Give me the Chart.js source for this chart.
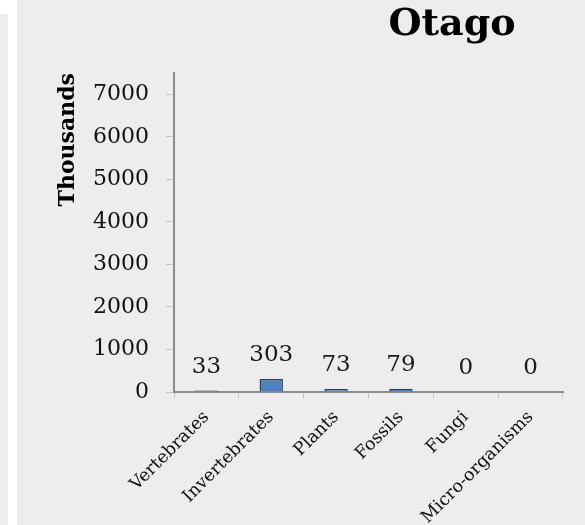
<!DOCTYPE html>
<html>
<head>
<meta charset="utf-8">
<script src="https://cdn.jsdelivr.net/npm/chart.js@4.4.1/dist/chart.umd.min.js"></script>
<style>
  html, body { margin: 0; padding: 0; background: #ededed; overflow: hidden; }
  #wrap { width: 585px; height: 525px; }
  canvas { display: block; }
</style>
</head>
<body>
<div id="wrap"><canvas id="c" width="585" height="525"></canvas></div>
<script>
const chartTitle = 'Otago';
const yAxisTitle = 'Thousands';
const categories = ['Vertebrates', 'Invertebrates', 'Plants', 'Fossils', 'Fungi', 'Micro-organisms'];
const values = [33, 303, 73, 79, 0, 0];
const yTickValues = [0, 1000, 2000, 3000, 4000, 5000, 6000, 7000];
const yMin = 0;
const yMax = 7500;

const SERIF = '"DejaVu Serif", "Liberation Serif", serif';

const backgroundPlugin = {
  id: 'bg',
  beforeDraw(chart) {
    const ctx = chart.ctx;
    ctx.save();
    ctx.fillStyle = '#ededed';
    ctx.fillRect(0, 0, chart.width, chart.height);
    ctx.fillStyle = '#ffffff';
    ctx.fillRect(8, 0, 9, chart.height);
    ctx.fillRect(0, 0, 8, 14);
    ctx.restore();
  }
};

const titlePlugin = {
  id: 'rightTitle',
  afterDraw(chart) {
    const ctx = chart.ctx;
    ctx.save();
    ctx.font = 'bold 38px ' + SERIF;
    ctx.fillStyle = '#000000';
    ctx.textAlign = 'center';
    ctx.textBaseline = 'alphabetic';
    ctx.fillText(chartTitle, 452, 35);
    ctx.restore();
  }
};

const valueLabelPlugin = {
  id: 'valueLabels',
  afterDatasetsDraw(chart) {
    const ctx = chart.ctx;
    const meta = chart.getDatasetMeta(0);
    ctx.save();
    ctx.font = '23px ' + SERIF;
    ctx.fillStyle = '#1a1a1a';
    ctx.textAlign = 'center';
    ctx.textBaseline = 'alphabetic';
    meta.data.forEach((bar, i) => {
      ctx.fillText(String(values[i]), bar.x, bar.y - 18);
    });
    ctx.restore();
  }
};

new Chart(document.getElementById('c'), {
  type: 'bar',
  data: {
    labels: categories,
    datasets: [{
      data: values,
      backgroundColor: '#4f81bd',
      borderColor: '#2f3d52',
      borderWidth: 1.5,
      barPercentage: 0.36,
      categoryPercentage: 1.0
    }]
  },
  options: {
    responsive: false,
    devicePixelRatio: 1,
    animation: false,
    layout: { padding: { top: 73, right: 22, left: 0, bottom: 0 } },
    plugins: {
      legend: { display: false },
      tooltip: { enabled: false },
      title: { display: false }
    },
    scales: {
      x: {
        grid: {
          display: true,
          drawOnChartArea: false,
          drawTicks: true,
          tickLength: 6,
          color: '#c4c4c4',
          offset: true
        },
        border: { display: true, color: '#8c8c8c', width: 2 },
        ticks: {
          autoSkip: false,
          maxRotation: 45,
          minRotation: 45,
          padding: 9,
          color: '#111111',
          font: { family: SERIF, size: 17.5 }
        },
        afterFit(scale) { scale.height = 133; }
      },
      y: {
        min: yMin,
        max: yMax,
        grid: {
          display: true,
          drawOnChartArea: false,
          drawTicks: true,
          tickLength: 8,
          color: '#c4c4c4'
        },
        border: { display: true, color: '#8c8c8c', width: 2 },
        ticks: {
          stepSize: 1000,
          includeBounds: false,
          padding: 17,
          color: '#111111',
          font: { family: SERIF, size: 22 },
          callback: (v) => yTickValues.includes(v) ? String(v) : null
        },
        afterBuildTicks(scale) {
          scale.ticks = yTickValues.map(v => ({ value: v }));
        },
        title: {
          display: true,
          text: yAxisTitle,
          align: 'end',
          color: '#000000',
          font: { family: SERIF, size: 22, weight: 'bold' },
          padding: { top: 55, bottom: 0 }
        },
        afterFit(scale) { scale.width = 174; }
      }
    }
  },
  plugins: [backgroundPlugin, titlePlugin, valueLabelPlugin]
});
</script>
</body>
</html>
